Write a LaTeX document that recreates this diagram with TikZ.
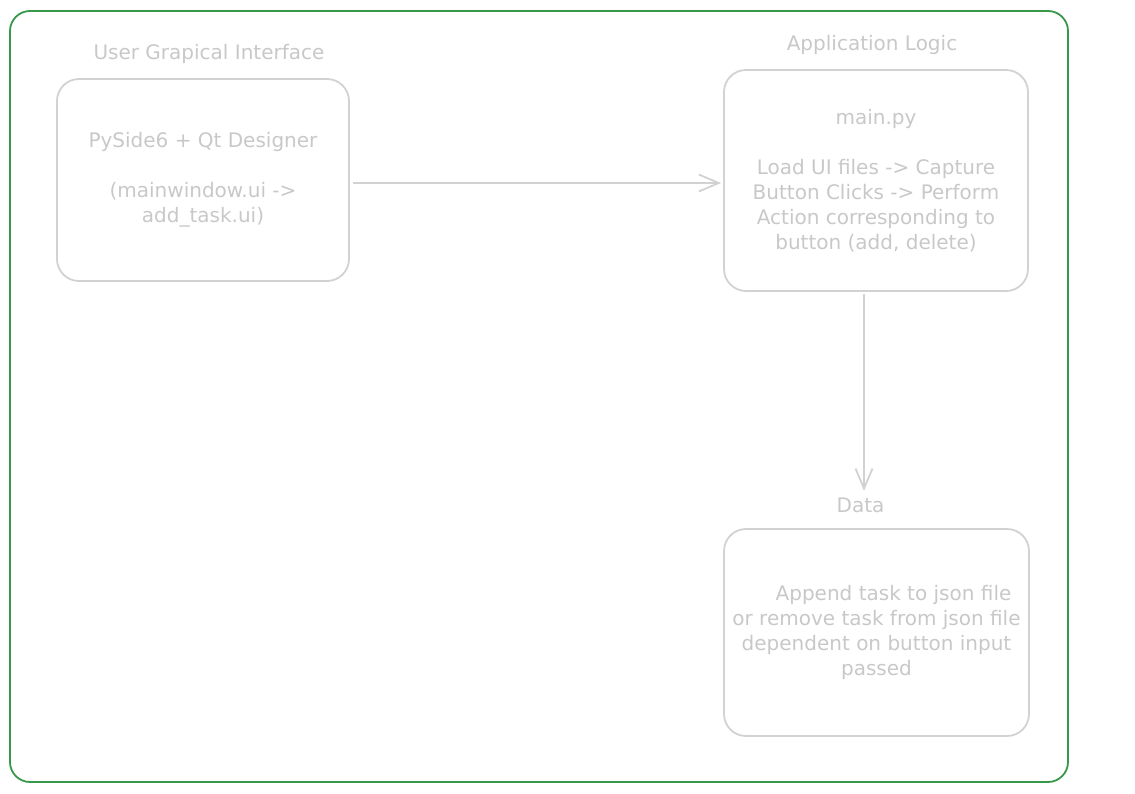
\documentclass[tikz,border=0pt]{standalone}
\usepackage{fontspec}
\setmainfont{DejaVu Sans}
\usepackage{tikz}
\usetikzlibrary{arrows.meta,positioning}
\definecolor{boxline}{RGB}{210,210,210}
\definecolor{boxtext}{RGB}{200,200,200}
\definecolor{framegreen}{RGB}{56,152,74}
\tikzset{
  block/.style={draw=boxline, line width=1.8pt, rounded corners=22pt, align=center,
    text=boxtext, font=\fontsize{20}{25}\selectfont},
  heading/.style={text=boxtext, inner sep=0pt, font=\fontsize{20}{24}\selectfont},
  flowarrow/.style={draw=boxline, line width=1.8pt, -{Straight Barb[length=20pt,width=17pt]}}
}

\begin{document}
\begin{tikzpicture}[x=1pt,y=-1pt]
  \useasboundingbox (0,0) rectangle (1135,793);
  \draw[framegreen, line width=1.8pt, rounded corners=20pt] (10,11) rectangle (1068,782);

  \node [block, minimum width=292pt, minimum height=202pt] (gui) at (203,180) {
    PySide6 + Qt Designer\\[25pt]
    (mainwindow.ui ->\\ add\_task.ui)};
  \node [block, minimum width=304pt, minimum height=221pt] (app) at (876,180.5) {
    main.py\\[25pt]
    Load UI files -> Capture\\ Button Clicks -> Perform\\
    Action corresponding to\\ button (add, delete)};
  \node [block, minimum width=305pt, minimum height=207pt] (data) at (876.5,632.5) {
    \hspace*{34pt}Append task to json file\\ or remove task from json file\\
    dependent on button input\\ passed};

  \node [heading, above=14pt of gui, xshift=6pt] (guititle) {User Grapical Interface};
  \node [heading, above=14pt of app, xshift=-4pt] (apptitle) {Application Logic};
  \node [heading, above=15pt of data, xshift=-16pt] (datatitle) {Data};

  \draw [flowarrow, shorten <=3pt, shorten >=2pt] ([yshift=-3pt]gui.east) -- ([yshift=-3pt]gui.east -| app.west);
  \draw [flowarrow, shorten <=2pt, shorten >=7pt] ([xshift=-12pt]app.south) -- ([xshift=-12pt]app.south |- datatitle.north);
\end{tikzpicture}
\end{document}
